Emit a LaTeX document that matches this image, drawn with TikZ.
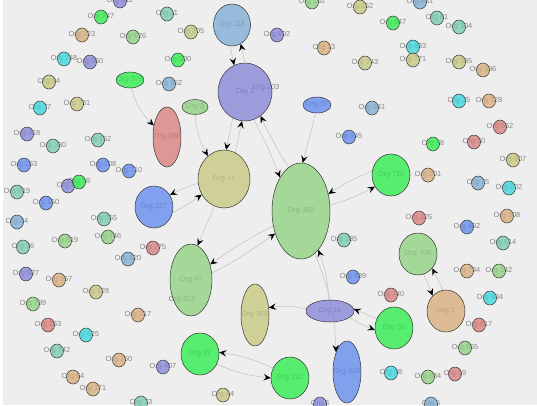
\documentclass[tikz,border=0pt]{standalone}
\usepackage{fontspec}
\setmainfont{Liberation Sans}
\usepackage{tikz}
\usepackage{xcolor}
\usetikzlibrary{shapes.geometric}
\usetikzlibrary{arrows.meta}

\definecolor{orgbright}{HTML}{1EEE40}
\definecolor{orglight}{HTML}{88D078}
\definecolor{orgolive}{HTML}{C4C478}
\definecolor{orgpurple}{HTML}{7E7ED8}
\definecolor{orgsteel}{HTML}{76AAD4}
\definecolor{orgblue}{HTML}{5884F0}
\definecolor{orgred}{HTML}{D87676}
\definecolor{orgtan}{HTML}{D6A874}
\definecolor{orgcyan}{HTML}{2ED6DC}
\definecolor{orgteal}{HTML}{70C8AE}
\definecolor{canvas}{HTML}{EEEEEE}
\definecolor{linkgray}{HTML}{C4C4C4}
\definecolor{labelgray}{HTML}{858585}

\pgfdeclarelayer{edges}
\pgfdeclarelayer{labels}
\pgfsetlayers{edges,labels,main}

% small org: [extra], name, position, fill, text
\newcommand{\orgnode}[5][]{%
  \begin{pgfonlayer}{labels}\node[orglabel] (#2-l) at (#3) {#5};\end{pgfonlayer}
  \node[org, fill=#4, #1] (#2) at (#3) {};}
% large org: name, position, half width, half height, fill, text
\newcommand{\bignode}[6]{%
  \begin{pgfonlayer}{labels}\node[orglabel] (#1-l) at (#2) {#6};\end{pgfonlayer}
  \node[org, fill=#5, minimum width=#3mm, minimum height=#4mm] (#1) at (#2) {};}

\begin{document}
\begin{tikzpicture}[x=0.5mm, y=-0.5mm]
    % Style definitions
    \tikzset{
        org/.style={ellipse, draw=black!80, line width=0.7pt, fill opacity=0.72,
                    inner sep=0pt, minimum width=6.5mm, minimum height=7mm},
        covered/.style={draw=none},
        orglabel/.style={text=labelgray, inner sep=0pt, font=\fontsize{10.5}{12}\selectfont},
        link/.style={draw=linkgray, line width=0.8pt,
                     -{Stealth[length=3.6mm, width=3.2mm, inset=1.4mm, color=black]}}
    }

    \useasboundingbox (0,0) rectangle (537,405);
    \begin{pgfonlayer}{edges}
        \fill[canvas] (0,0) rectangle (537,405);
        \fill[white] (0,0) rectangle (3,405);
    \end{pgfonlayer}

    % ==========================================
    % OUTER RING (unlinked orgs)
    % ==========================================
    \orgnode{s1}{120,1}{orgpurple}{Org 412}
    \orgnode{s2}{101,17}{orgbright}{Org 747}
    \orgnode{s3}{167,14}{orgteal}{Org 11}
    \orgnode{s4}{82,35}{orgtan}{Org 323}
    \orgnode{s5}{133,37}{orglight}{Org 626}
    \orgnode{s6}{64,59}{orgcyan}{Org 748}
    \orgnode{s7}{90,62}{orgpurple}{Org 360}
    \orgnode{s8}{178,60}{orgbright}{Org 300}
    \orgnode{s9}{49,82}{orgolive}{Org 94}
    \orgnode{s10}{169,84}{orgsteel}{Org 362}
    \orgnode{s11}{40,108}{orgcyan}{Org 77}
    \orgnode{s12}{77,104}{orgolive}{Org 781}
    \orgnode{s13}{27,134}{orgpurple}{Org 418}
    \orgnode{s14}{98,140}{orgteal}{Org 152}
    \orgnode{s15}{53,146}{orgteal}{Org 380}
    \orgnode{s16}{24,165}{orgblue}{Org 163}
    \orgnode{s17}{103,165}{orgblue}{Org 208}
    \orgnode{s18}{129,171}{orgblue}{Org 710}
    \orgnode{s19}{68,186}{orgpurple}{Org 43}
    \orgnode{s20}{79,182}{orgbright}{Org 98}
    \orgnode{s21}{17,192}{orgteal}{Org 619}
    \orgnode{s22}{46,203}{orgblue}{Org 150}
    \orgnode{s23}{17,222}{orgsteel}{Org 84}
    \orgnode{s24}{104,219}{orgteal}{Org 655}
    \orgnode{s25}{108,237}{orglight}{Org 746}
    \orgnode{s26}{65,241}{orglight}{Org 819}
    \orgnode{s27}{23,247}{orgteal}{Org 96}
    \orgnode{s28}{153,248}{orgred}{Org 775}
    \orgnode{s29}{128,259}{orgsteel}{Org 520}
    \orgnode{s30}{26,274}{orgpurple}{Org 527}
    \orgnode{s31}{59,280}{orgtan}{Org 557}
    \orgnode{s32}{96,292}{orgolive}{Org 128}
    \orgnode{s33}{33,304}{orglight}{Org 799}
    \orgnode{s34}{138,315}{orgtan}{Org 217}
    \orgnode{s35}{48,325}{orgred}{Org 263}
    \orgnode{s36}{86,335}{orgcyan}{Org 625}
    \orgnode{s37}{57,351}{orgteal}{Org 742}
    \orgnode{s38}{119,360}{orgtan}{Org 750}
    \orgnode{s39}{163,367}{orgpurple}{Org 407}
    \orgnode{s40}{73,377}{orgtan}{Org 64}
    \orgnode{s41}{93,389}{orgtan}{Org 171}
    \orgnode{s42}{141,403}{orgteal}{Org 73}
    \orgnode{s43}{223,395}{orgolive}{Org 44}
    \orgnode{s44}{191,32}{orgolive}{Org 305}
    \orgnode{s45}{277,35}{orgpurple}{Org 692}
    \orgnode{s46}{324,48}{orgtan}{Org 13}
    \orgnode{s47}{312,2}{orglight}{Org 162}
    \orgnode{s48}{360,7}{orgolive}{Org 352}
    \orgnode{s49}{365,63}{orgolive}{Org 743}
    \orgnode[covered]{s50}{266,88}{none}{Org 203}
    \orgnode{s51}{349,137}{orgblue}{Org 145}
    \orgnode{s52}{420,2}{orgsteel}{Org 431}
    \orgnode{s53}{393,23}{orgbright}{Org 947}
    \orgnode{s54}{437,18}{orgteal}{Org 81}
    \orgnode{s55}{459,27}{orgteal}{Org 104}
    \orgnode{s56}{413,47}{orgcyan}{Org 833}
    \orgnode{s57}{413,60}{orgolive}{Org 771}
    \orgnode{s58}{459,62}{orgolive}{Org 185}
    \orgnode{s59}{483,70}{orgtan}{Org 396}
    \orgnode{s60}{372,108}{orgsteel}{Org 341}
    \orgnode{s61}{459,101}{orgcyan}{Org 35}
    \orgnode{s62}{489,101}{orgtan}{Org 728}
    \orgnode{s63}{500,127}{orgred}{Org 562}
    \orgnode{s64}{433,144}{orgbright}{Org 58}
    \orgnode{s65}{474,142}{orgred}{Org 50}
    \orgnode{s66}{513,160}{orgolive}{Org 607}
    \orgnode{s67}{428,175}{orgtan}{Org 201}
    \orgnode{s68}{478,183}{orgsteel}{Org 75}
    \orgnode{s69}{509,188}{orgcyan}{Org 202}
    \orgnode{s70}{419,218}{orgred}{Org 125}
    \orgnode{s71}{467,227}{orgblue}{Org 482}
    \orgnode{s72}{507,216}{orgtan}{Org 608}
    \orgnode{s73}{503,243}{orgteal}{Org 614}
    \orgnode{s74}{467,271}{orgtan}{Org 734}
    \orgnode{s75}{499,271}{orglight}{Org 142}
    \orgnode{s76}{344,240}{orgteal}{Org 385}
    \orgnode{s77}{353,277}{orgblue}{Org 589}
    \orgnode{s78}{391,295}{orgred}{Org 740}
    \orgnode{s79}{490,298}{orgcyan}{Org 534}
    \orgnode{s80}{479,325}{orgred}{Org 817}
    \orgnode{s81}{465,348}{orglight}{Org 565}
    \orgnode{s82}{391,373}{orgcyan}{Org 38}
    \orgnode{s83}{428,377}{orglight}{Org 384}
    \orgnode{s84}{455,374}{orgred}{Org 19}
    \orgnode{s85}{431,404}{orgsteel}{Org 5}
    \orgnode{s86}{320,404}{orgpurple}{Org 6}
    \orgnode[covered]{s87}{182,300}{none}{Org 312}

    % ==========================================
    % LINKED ORGS
    % ==========================================
    \bignode{o118}{232,25}{18.5}{21}{orgsteel}{Org 118}
    \bignode{o1}{245,92}{27}{29}{orgpurple}{Org 1}
    \bignode{o3}{195,107}{13}{7.5}{orglight}{Org 3}
    \bignode{o37}{317,105}{14}{8}{orgblue}{Org 37}
    \bignode{o379}{130,80}{14}{8}{orgbright}{Org 379}
    \bignode{o398}{167,137}{14}{30}{orgred}{Org 398}
    \bignode{o14}{224,179}{26}{29}{orgolive}{Org 14}
    \bignode{o227}{154,207}{19}{21}{orgblue}{Org 227}
    \bignode{o382}{301,211}{29}{48}{orglight}{Org 382}
    \bignode{o711}{391,175}{19}{21}{orgbright}{Org 711}
    \bignode{o47}{191,280}{21}{36}{orglight}{Org 47}
    \bignode{o368}{255,315}{14}{31}{orgolive}{Org 368}
    \bignode{o16}{330,311}{24}{11}{orgpurple}{Org 16}
    \bignode{o82}{200,354}{19}{21}{orgbright}{Org 82}
    \bignode{o151}{290,378}{19}{21}{orgbright}{Org 151}
    \bignode{o429}{347,372}{14}{31}{orgblue}{Org 429}
    \bignode{o55}{394,328}{19}{21}{orgbright}{Org 55}
    \bignode{o2}{446,311}{19}{21}{orgtan}{Org 2}
    \bignode{o709}{418,254}{19}{21}{orglight}{Org 709}

    % Links (drawn under the orgs)
    \begin{pgfonlayer}{edges}
        \draw[link] (o379.-80) to[bend right=15] (o398.139);
        \draw[link] (o118.-95) -- (o1.112);
        \draw[link] (o1.90) -- (o118.-65);
        \draw[link] (o3.-90) to[bend right=12] (o14.125);
        \draw[link] (o1.-115) -- (o14.86);
        \draw[link] (o14.67) -- (o1.-96);
        \draw[link] (o1.-72) to[bend left=3] (o382.122);
        \draw[link] (o382.106) to[bend left=3] (o1.-57);
        \draw[link] (o37.-100) -- (o382.88);
        \draw[link] (o14.189) to[bend right=4] (o227.37);
        \draw[link] (o227.-17) to[bend right=4] (o14.215);
        \draw[link] (o14.-110) -- (o47.79);
        \draw[link] (o382.208) to[bend right=4] (o47.39);
        \draw[link] (o47.18) to[bend right=4] (o382.221);
        \draw[link] (o711.168) to[bend right=5] (o382.32);
        \draw[link] (o382.11) to[bend right=5] (o711.216);
        \draw[link] (o16.95) to[bend right=8] (o382.-66);
        \draw[link] (o16.175) to[bend right=10] (o368.28);
        \draw[link] (o55.151) -- (o16.5);
        \draw[link] (o16.-19) to[bend right=4] (o55.186);
        \draw[link] (o382.-72) to[bend left=10] (o429.119);
        \draw[link] (o151.150) to[bend right=8] (o82.5);
        \draw[link] (o82.-32) to[bend right=8] (o151.180);
        \draw[link] (o709.-74) -- (o2.131);
        \draw[link] (o2.98) -- (o709.-45);
    \end{pgfonlayer}
\end{tikzpicture}
\end{document}
